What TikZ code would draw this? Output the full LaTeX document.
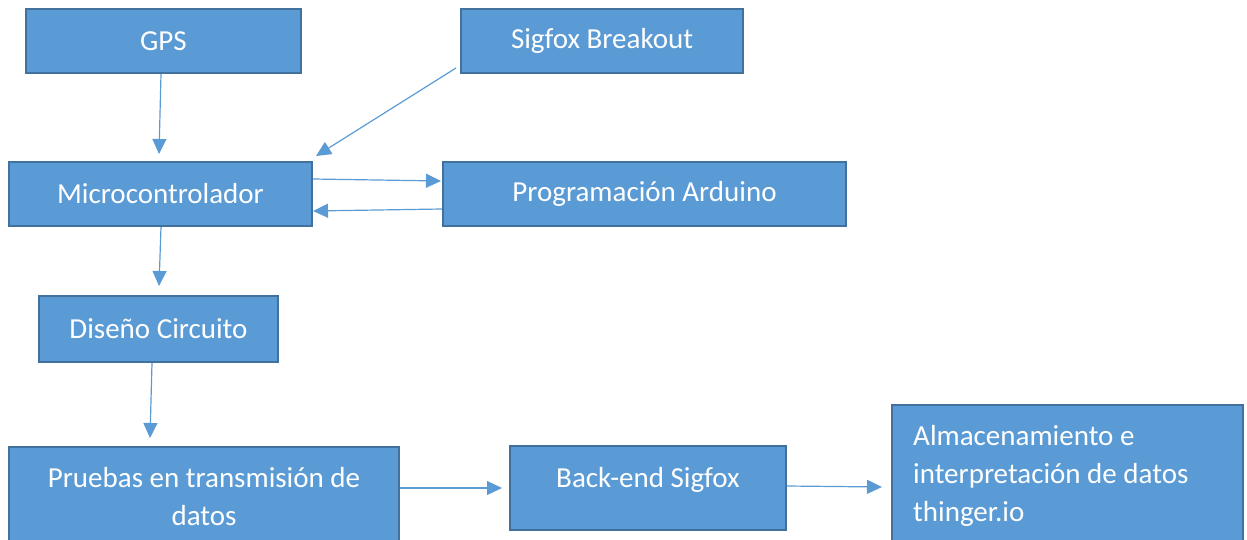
\documentclass[tikz,border=0pt]{standalone}
\usepackage{fontspec}
\setmainfont{Carlito}
\usetikzlibrary{arrows.meta,calc}
\definecolor{boxfill}{HTML}{5B9BD5}
\definecolor{boxline}{HTML}{41719C}
\definecolor{arrcol}{HTML}{5B9BD5}
\tikzset{
  box/.style={draw=boxline,line width=2pt,fill=boxfill,rectangle,inner sep=0pt,
    text=white,font=\fontsize{29}{38}\selectfont},
  txt/.style={text=white,font=\fontsize{29}{38}\selectfont,inner sep=0pt},
  arr/.style={draw=arrcol,line width=1.2pt,-{Triangle[length=15pt,width=14pt]}}
}
\begin{document}
\begin{tikzpicture}[x=1pt,y=-1pt]
\useasboundingbox (0,0) rectangle (1247,540);
\clip (0,0) rectangle (1247,540);
\node[box,minimum width=275pt,minimum height=64pt] (gps) at (163.5,41) {GPS};
\node[box,minimum width=282pt,minimum height=64pt] (sig) at (602,41) {Sigfox Breakout};
\node[box,minimum width=303pt,minimum height=64pt] (mic) at (160.5,194) {Microcontrolador};
\node[box,minimum width=403pt,minimum height=64pt] (prog) at (644.5,194) {Programación Arduino};
\node[box,minimum width=239pt,minimum height=66pt] (dis) at (158.5,329) {Diseño Circuito};
\node[box,minimum width=390pt,minimum height=110pt] (prue) at (204,502) {};
\node[txt,anchor=base,align=center] (pruet) at (204,525) {Pruebas en transmisión de\\datos};
\node[box,minimum width=276pt,minimum height=84pt] (back) at (648,488) {};
\node[txt,anchor=base] (backt) at (648,487) {Back-end Sigfox};
\node[box,minimum width=351pt,minimum height=170pt] (alm) at (1067.5,490) {};
\node[txt,anchor=base west,align=left] (almt) at (913,521) {Almacenamiento e\\interpretación de datos\\thinger.io};
% connectors
\draw[arr] ($(gps.south)+(-2.5,0)$) -- ($(mic.north)+(-1.5,-7)$);
\draw[arr] ($(sig.south west)+(-4,-6)$) -- ($(mic.north east)+(3,-5)$);
\draw[arr] ($(mic.east)+(0,-15)$) -- ($(prog.west)+(-1,-13)$);
\draw[arr] ($(prog.west)+(0,15)$) -- ($(mic.east)+(0,17)$);
\draw[arr] ($(mic.south)+(0.5,0)$) -- ($(dis.north)+(0.5,-9)$);
\draw[arr] ($(dis.south)+(-6.5,0)$) -- ($(prue.north)+(-54,-8)$);
\draw[arr] ($(prue.north east)+(0,42)$) -- ($(back.west)+(-7,0)$);
\draw[arr] ($(back.east)+(0,-2)$) -- ($(alm.north west)+(-9,83)$);
\end{tikzpicture}
\end{document}
